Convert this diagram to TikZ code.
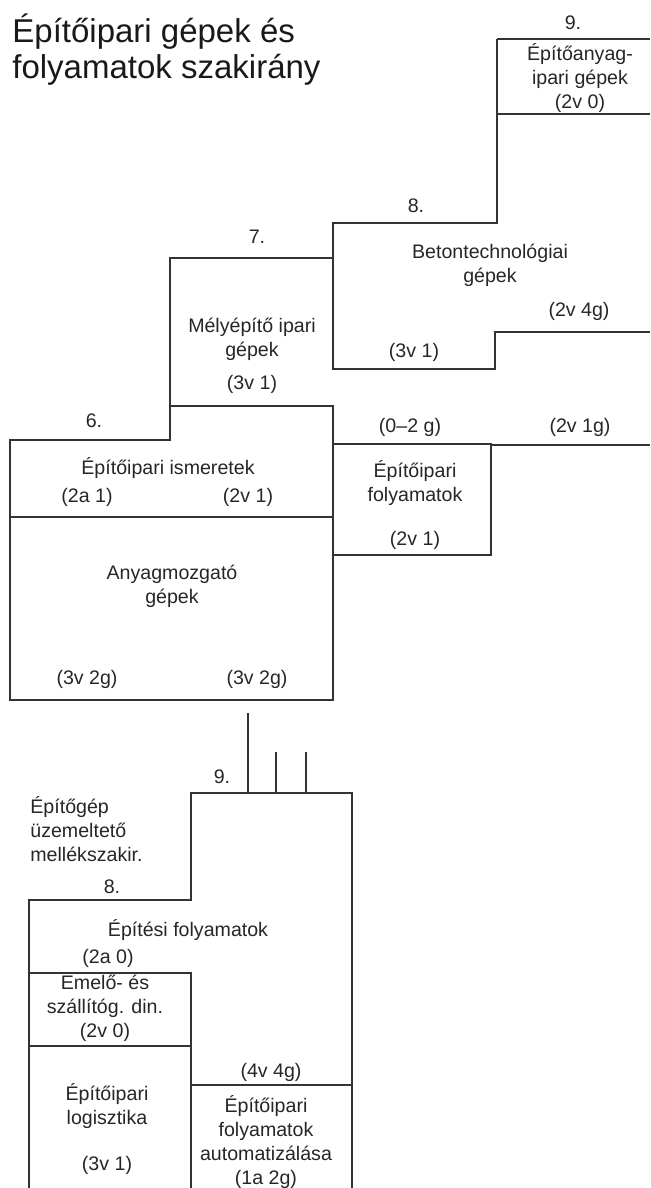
\documentclass[tikz,border=0pt]{standalone}
\usepackage{fontspec}
\setmainfont{Liberation Sans}
\begin{document}
\begin{tikzpicture}[x=0.5pt,y=-0.5pt,
  wall/.style={line width=1pt,black!80},
  lbl/.style={text=black!85,font=\fontsize{9.8}{12}\selectfont,align=center,inner sep=0pt},
  head/.style={text=black!90,font=\fontsize{16.5}{18}\selectfont,anchor=base west,inner sep=0pt}]

\useasboundingbox (0,0) rectangle (650,1188);

% title
\node[head] (title1) at (12,43) {Építőipari gépek és};
\node[head] (title2) at (12,79) {folyamatok szakirány};

% upper steps
\draw[wall] (497,39) -- (650,39);
\draw[wall] (497,114) -- (650,114);
\draw[wall] (497,39) -- (497,223) -- (333,223) -- (333,369) -- (495,369) -- (495,332) -- (650,332);
\draw[wall] (333,258) -- (170,258) -- (170,440) -- (10,440) -- (10,700) -- (333,700) -- (333,406) -- (170,406);
\draw[wall] (10,517) -- (333,517);
\draw[wall] (333,444) -- (491,444) -- (491,555) -- (333,555);
\draw[wall] (491,445) -- (650,445);

\node[lbl] (n9) at (573,23) {9.};
\node[lbl] (epa) at (580,78) {Építőanyag-\\ipari gépek\\(2v 0)};
\node[lbl] (n8) at (416,206) {8.};
\node[lbl] (beton) at (490,265) {Betontechnológiai\\gépek};
\node[lbl] (beton2) at (579,311) {(2v 4g)};
\node[lbl] (beton1) at (414,352) {(3v 1)};
\node[lbl] (n7) at (257,237) {7.};
\node[lbl] (mely) at (252,339) {Mélyépítő ipari\\gépek};
\node[lbl] (mely1) at (252,384) {(3v 1)};
\node[lbl] (n6) at (94,421) {6.};
\node[lbl] (fo0) at (410,427) {(0–2 g)};
\node[lbl] (fo2) at (580,427) {(2v 1g)};
\node[lbl] (ism) at (168,468) {Építőipari ismeretek};
\node[lbl] (ism1) at (87,497) {(2a 1)};
\node[lbl] (ism2) at (248,497) {(2v 1)};
\node[lbl] (folyam) at (415,483) {Építőipari\\folyamatok};
\node[lbl] (folyam1) at (415,540) {(2v 1)};
\node[lbl] (anyag) at (172,586) {Anyagmozgató\\gépek};
\node[lbl] (anyag1) at (87,679) {(3v 2g)};
\node[lbl] (anyag2) at (257,679) {(3v 2g)};

% lower steps
\draw[wall] (248,713) -- (248,793);
\draw[wall] (276,752) -- (276,793);
\draw[wall] (306,752) -- (306,793);
\draw[wall] (352,1188) -- (352,793) -- (191,793) -- (191,900) -- (29,900) -- (29,1188);
\draw[wall] (29,973) -- (191,973) -- (191,1188);
\draw[wall] (29,1046) -- (191,1046);
\draw[wall] (191,1085) -- (352,1085);

\node[lbl] (m9) at (222,777) {9.};
\node[lbl,align=left,anchor=west] (mellek) at (30,829) {Építőgép\\üzemeltető\\mellékszakir.};
\node[lbl] (m8) at (112,887) {8.};
\node[lbl] (epites) at (188,930) {Építési folyamatok};
\node[lbl] (epites1) at (108,958) {(2a 0)};
\node[lbl] (emelo) at (105,1008) {Emelő- és\\szállítóg. din.\\(2v 0)};
\node[lbl] (epites2) at (271,1072) {(4v 4g)};
\node[lbl] (logi) at (107,1106) {Építőipari\\logisztika};
\node[lbl] (logi1) at (107,1165) {(3v 1)};
\node[lbl] (auto) at (266,1142) {Építőipari\\folyamatok\\automatizálása\\(1a 2g)};
\end{tikzpicture}
\end{document}
